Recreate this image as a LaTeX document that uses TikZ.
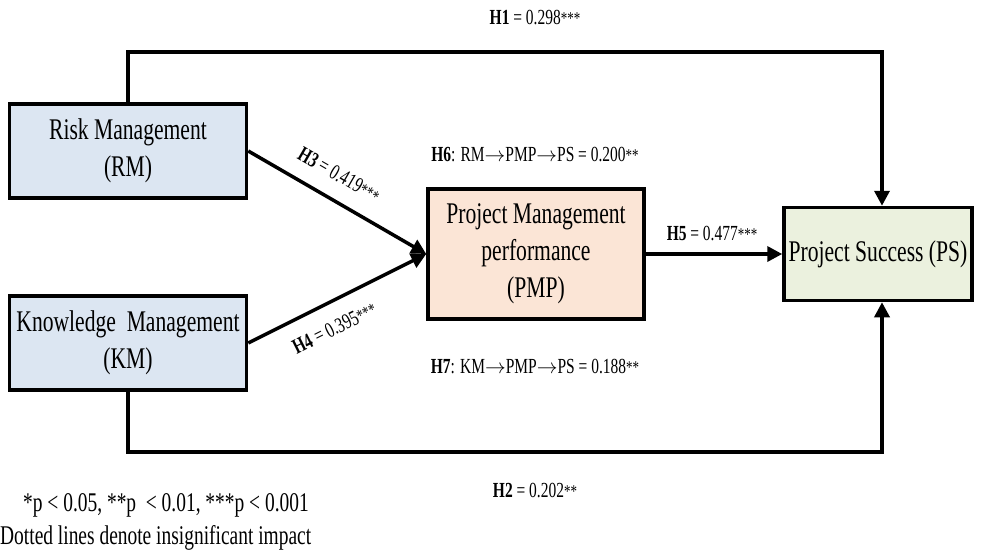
\documentclass[tikz,border=0pt]{standalone}
\usepackage{fontspec}
\setmainfont[FakeStretch=0.72]{Liberation Serif}
\usetikzlibrary{arrows.meta}
\newcommand\stars[1]{{\fontsize{18}{18}\selectfont #1}}
\newcommand\rarr{\(\rightarrow\)}
\definecolor{rmblue}{HTML}{DCE6F2}
\definecolor{pmppeach}{HTML}{FBE5D6}
\definecolor{psgreen}{HTML}{EBF1DE}
\tikzset{
  box/.style={draw, line width=3.5pt, align=center, inner sep=0pt,
    font=\fontsize{30}{37}\selectfont},
  conn/.style={line width=3.5pt},
  arr/.style={conn, -{Triangle[length=15pt,width=15pt]}},
  lab/.style={font=\fontsize{21.5}{24}\selectfont, inner sep=0pt},
  legend/.style={font=\fontsize{27}{30}\selectfont, inner sep=0pt},
}
\begin{document}
\begin{tikzpicture}[x=1pt,y=-1pt]
\useasboundingbox (0,0) rectangle (984,554);
% boxes
\node[box, fill=rmblue, minimum width=237pt, minimum height=94pt] (RM) at (128,151) {Risk Management\\(RM)};
\node[box, fill=rmblue, minimum width=237pt, minimum height=94pt] (KM) at (128,343) {Knowledge\ \ Management\\(KM)};
\node[box, fill=pmppeach, minimum width=216pt, minimum height=130pt] (PMP) at (536,254) {Project Management\\performance\\(PMP)};
\node[box, fill=psgreen, minimum width=188pt, minimum height=93pt] (PS) at (878,254) {Project Success (PS)};
% corner coordinates
\coordinate (c1) at (128,52);
\coordinate (c2) at (882,52);
\coordinate (c3) at (128,452);
\coordinate (c4) at (882,452);
% connectors
\draw[arr] (RM.north) -- (c1) -- (c2) -- (c2 |- PS.north);
\draw[arr] (KM.south) -- (c3) -- (c4) -- (c4 |- PS.south);
\draw[arr] (RM.east) -- node[lab, sloped, pos=0.44, above=16pt] (h3) {\textbf{H3} = 0.419\stars{***}} (PMP.west);
\draw[arr] (KM.east) -- node[lab, sloped, pos=0.42, below=16pt] (h4) {\textbf{H4} = 0.395\stars{***}} (PMP.west);
\draw[arr] (PMP.east) -- (PS.west);
% labels
\node[lab] (h1) at (535,18) {\textbf{H1} = 0.298\stars{***}};
\node[lab] (h2) at (535,490) {\textbf{H2} = 0.202\stars{**}};
\node[lab] (h5) at (712,233) {\textbf{H5} = 0.477\stars{***}};
\node[lab] (h6) at (535,155) {\textbf{H6}: RM\rarr PMP\rarr PS = 0.200\stars{**}};
\node[lab] (h7) at (535,366) {\textbf{H7}: KM\rarr PMP\rarr PS = 0.188\stars{**}};
% legend
\node[legend] (l1) at (166,505) {*p < 0.05, **p\ \ < 0.01, ***p < 0.001};
\node[legend, anchor=west] (l2) at (0,538) {Dotted lines denote insignificant impact};
\end{tikzpicture}
\end{document}
